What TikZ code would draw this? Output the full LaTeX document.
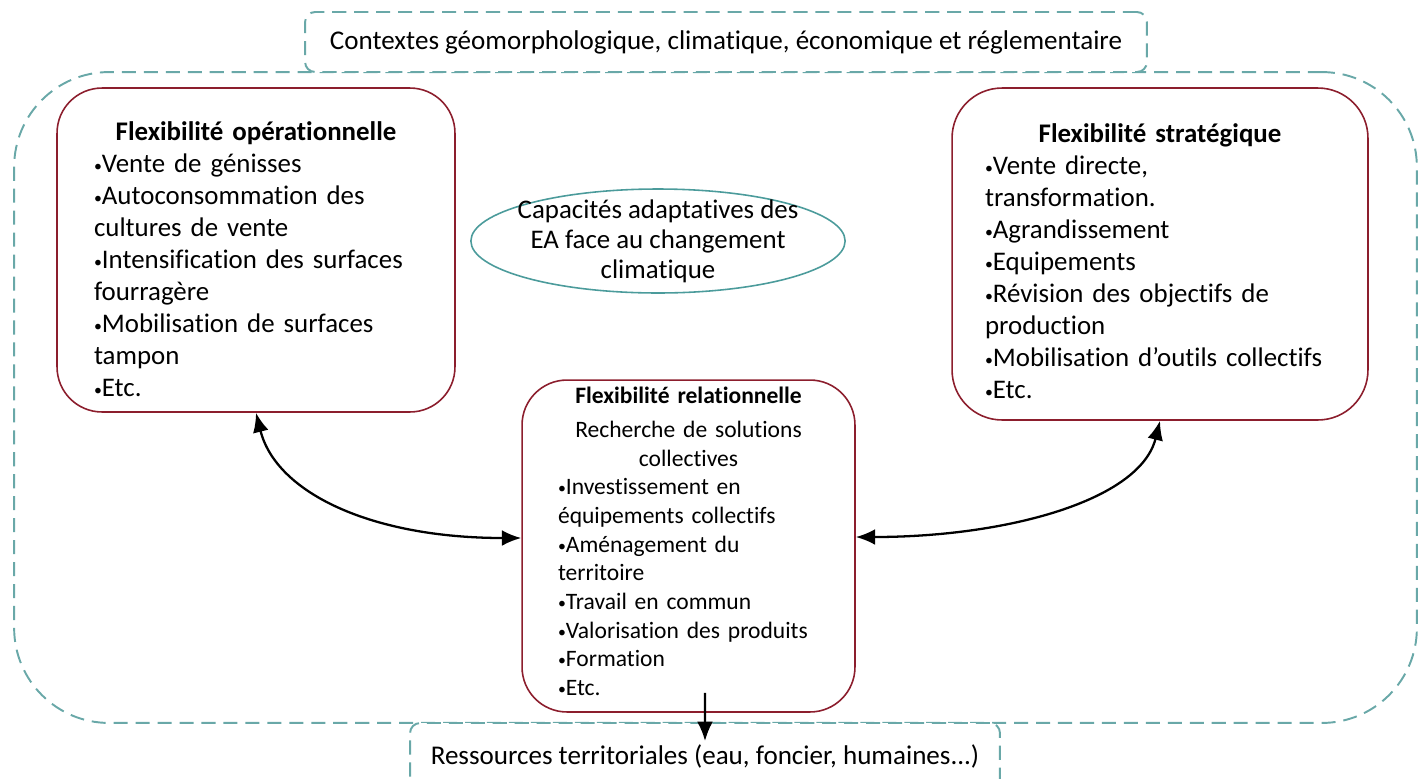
\documentclass[tikz,border=0pt]{standalone}
\usepackage{fontspec}
\setmainfont{Carlito}[Ligatures=NoCommon]
\usepackage{tikz}
\usetikzlibrary{positioning,calc,arrows.meta,shapes.geometric}
\definecolor{bordeaux}{RGB}{140,30,45}
\definecolor{sarcelle}{RGB}{105,168,168}
\definecolor{sarcelleF}{RGB}{75,155,155}
\newcommand{\puce}{{\small\raisebox{0.15ex}{•}}}
\tikzstyle{flex} = [draw=bordeaux,line width=0.9pt,fill=white,align=left,font=\fontsize{15.3}{18.2}\selectfont]
\tikzstyle{zone} = [draw=sarcelle,line width=1.1pt,dash pattern=on 8pt off 4.5pt,fill=white]
\tikzstyle{fleche} = [draw,line width=1.3pt,-{Latex[length=11pt,width=9pt]}]

\begin{document}
\begin{tikzpicture}[x=0.02cm,y=-0.02cm]
                \useasboundingbox (0,0) rectangle (1422,778);
                % cadres en pointilles
                \node[zone,fill=none,rounded corners=1.9cm,minimum width=28.06cm,minimum height=13.02cm] (cadre) at (715.5,397.5) {};
                \node[zone,rounded corners=0.2cm,minimum width=16.84cm,minimum height=1.2cm,font=\fontsize{15.4}{18}\selectfont] (ctx) at (726,42) {Contextes géomorphologique, climatique, économique et réglementaire};
                \node[zone,rounded corners=0.2cm,minimum width=11.8cm,minimum height=1.32cm,font=\fontsize{15.4}{18}\selectfont] (res) at (705,756) {Ressources territoriales (eau, foncier, humaines...)};
                % les trois flexibilites
                \node[flex,rounded corners=0.9cm,text width=6.48cm,inner xsep=0.74cm,minimum height=6.48cm] (oper) at (256,250) {{\centering\bfseries\rule{0pt}{0.75cm}Flexibilité opérationnelle\par}
                    \puce Vente de génisses\\
                    \puce Autoconsommation des\\
                    cultures de vente\\
                    \puce Intensification des surfaces\\
                    fourragère\\
                    \puce Mobilisation de surfaces\\
                    tampon\\
                    \puce Etc.};
                \node[flex,rounded corners=1cm,text width=7cm,inner xsep=0.66cm,minimum height=6.64cm] (strat) at (1160,254) {{\centering\bfseries\rule{0pt}{0.67cm}Flexibilité stratégique\par}
                    \puce Vente directe,\\
                    transformation.\\
                    \puce Agrandissement\\
                    \puce Equipements\\
                    \puce Révision des objectifs de\\
                    production\\
                    \puce Mobilisation d’outils collectifs\\
                    \puce Etc.};
                \node[flex,rounded corners=0.9cm,text width=5.22cm,inner xsep=0.72cm,minimum height=6.64cm,font=\fontsize{13.4}{16.3}\selectfont] (rel) at (688.5,546) {{\centering\textbf{Flexibilité relationnelle}\\[0.12cm]
                    Recherche de solutions\\
                    collectives\par}
                    \puce Investissement en\\
                    équipements collectifs\\
                    \puce Aménagement du\\
                    territoire\\
                    \puce Travail en commun\\
                    \puce Valorisation des produits\\
                    \puce Formation\\
                    \puce Etc.\rule[-0.2cm]{0pt}{0.2cm}};
                \node[ellipse,draw=sarcelleF,line width=0.9pt,minimum width=7.48cm,minimum height=2.08cm,inner xsep=-0.16cm,inner ysep=-0.1cm,align=center,font=\fontsize{15.3}{17}\selectfont] (capa) at (658,241) {Capacités adaptatives des\\EA face au changement\\climatique};
                % fleches
                \path [fleche,{Latex[length=11pt,width=9pt]}-{Latex[length=11pt,width=9pt]}] (oper.south) .. controls +(20,80) and +(-150,0) .. ([yshift=0.16cm]rel.west);
                \path [fleche,{Latex[length=11pt,width=9pt]}-{Latex[length=11pt,width=9pt]}] (strat.south) .. controls +(-20,80) and +(150,0) .. ([yshift=0.18cm]rel.east);
                \path [fleche] ([xshift=0.33cm,yshift=0.4cm]rel.south) -- ([yshift=-0.38cm]res.north);
            \end{tikzpicture}
\end{document}
